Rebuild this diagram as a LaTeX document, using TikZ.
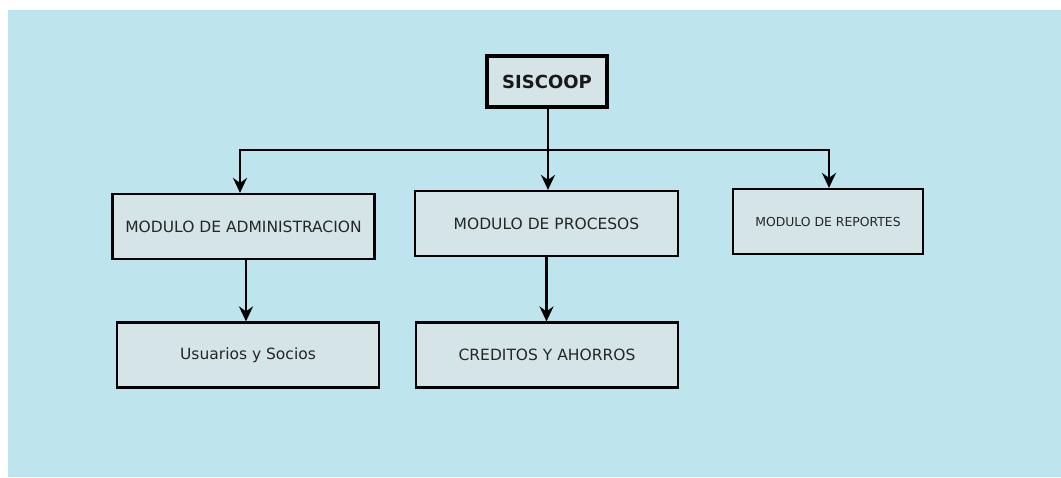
\documentclass[tikz,border=0pt]{standalone}
\usepackage{fontspec}
\setmainfont{DejaVu Sans}
\usepackage{xcolor}
\definecolor{skyback}{RGB}{190,228,238}
\definecolor{boxfill}{RGB}{213,228,231}
\definecolor{inkgray}{RGB}{38,38,38}
\usepackage{tikz}
\usetikzlibrary{arrows.meta}
\newcommand{\heightbox}{65pt}
\newcommand{\widthbox}{262pt}
\newcommand{\widthsmall}{190pt}
\tikzset{
    common/.style={draw=black, fill=boxfill, rectangle, line width=2.2pt, minimum height=\heightbox, inner sep=0pt, text=inkgray, font=\fontsize{15.5}{18}\selectfont},
    module/.style={common, minimum width=\widthbox},
    smallmodule/.style={common, minimum width=\widthsmall, font=\fontsize{12.4}{15}\selectfont},
    rootbox/.style={common, line width=4pt, minimum width=120pt, minimum height=51pt, text=black!90, font=\bfseries\fontsize{18}{21}\selectfont},
    conn/.style={line width=2.3pt, -{Stealth[length=15pt, width=14pt, inset=5pt]}}
}
\begin{document}
\begin{tikzpicture}[x=1pt, y=-1pt]
    \useasboundingbox (0,0) rectangle (1061,477);
    \fill[skyback] (8,10) rectangle (1061,477);

    \node[rootbox] (root) at (547,81.5) {SISCOOP};
    \node[module] (adm) at (243.5,226.5) {MODULO DE ADMINISTRACION};
    \node[module, minimum width=263pt] (proc) at (546.5,223.5) {MODULO DE PROCESOS};
    \node[smallmodule] (rep) at (828,221.5) {MODULO DE REPORTES};
    \node[module] (usu) at (248,355) {Usuarios y Socios};
    \node[module] (cred) at (547,355) {CREDITOS Y AHORROS};

    \coordinate (split) at (548,150);

    \draw[conn] ([xshift=1pt]root.south) -- ([xshift=1.5pt]proc.north);
    \draw[conn] (split) -| ([xshift=-3.5pt]adm.north);
    \draw[conn] (split) -| ([xshift=1pt]rep.north);
    \draw[conn] ([xshift=2.5pt]adm.south) -- ([xshift=-2pt]usu.north);
    \draw[conn] (proc.south) -- (proc.south |- cred.north);
\end{tikzpicture}
\end{document}
